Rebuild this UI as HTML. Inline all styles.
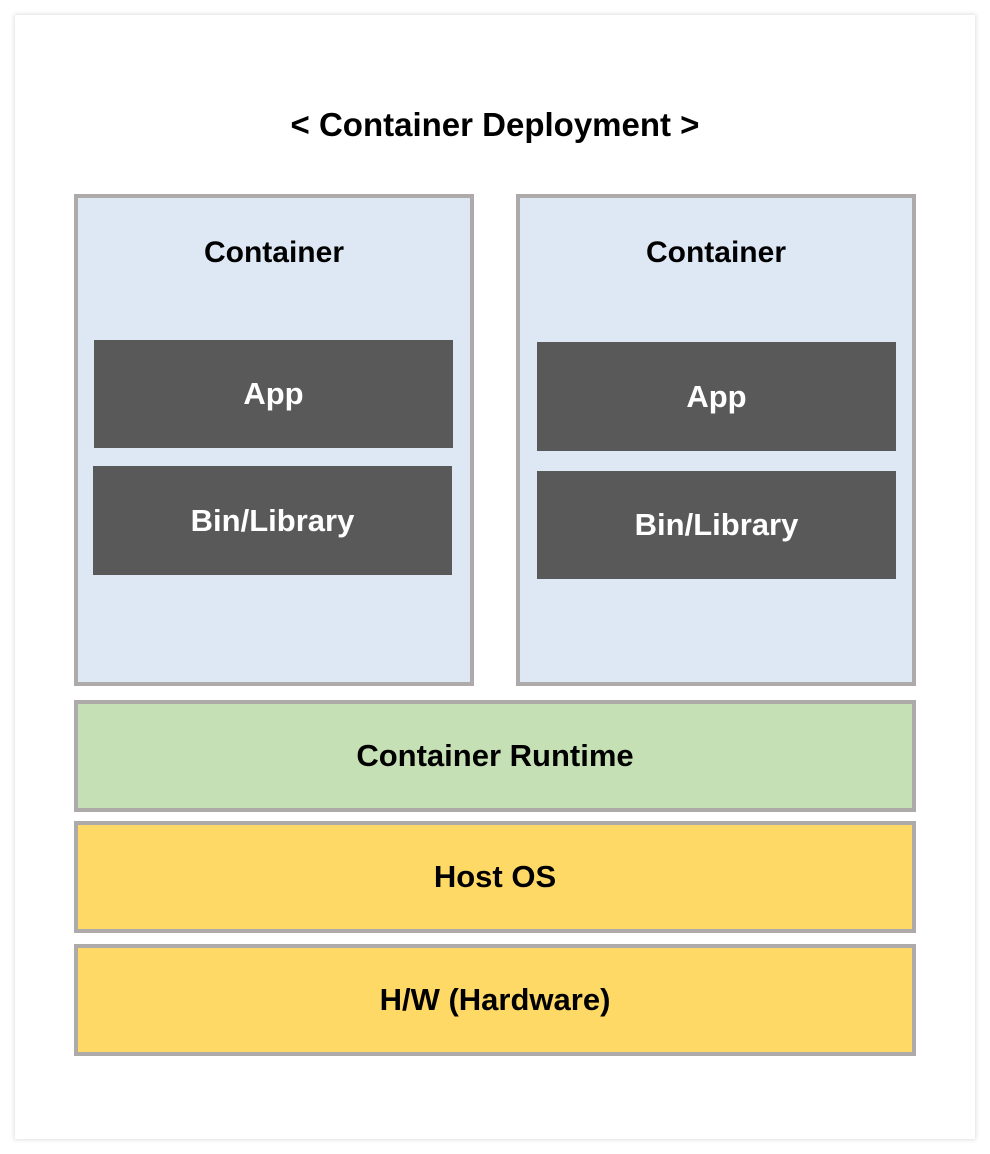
<!DOCTYPE html>
<html><head><meta charset="utf-8"><style>
body{margin:0;width:990px;height:1154px;background:#fff;position:relative;overflow:hidden;font-family:"Liberation Sans",sans-serif;font-weight:bold}
.card{position:absolute;left:15px;top:15px;width:960px;height:1124px;background:#fff;box-shadow:0 0 4px 1px rgba(0,0,0,0.12)}
.b{position:absolute;box-sizing:border-box;display:flex;align-items:center;justify-content:center}
.g{border:4px solid #aeaaaa}
.c{background:#dde8f4;align-items:flex-start}
.d{background:#595959;color:#fff;font-size:31px}
.t{position:absolute;left:0;width:990px;text-align:center;font-size:33px;top:106px;color:#000}
</style></head><body>
<div class="card"></div>
<div class="t">&lt; Container Deployment &gt;</div>
<div class="b g c" style="left:74px;top:194px;width:400px;height:492px;font-size:30px;padding-top:38px">Container</div>
<div class="b g c" style="left:516px;top:194px;width:400px;height:492px;font-size:30px;padding-top:38px">Container</div>
<div class="b d" style="left:94px;top:340px;width:359px;height:108px">App</div>
<div class="b d" style="left:93px;top:466px;width:359px;height:109px">Bin/Library</div>
<div class="b d" style="left:537px;top:342px;width:359px;height:109px">App</div>
<div class="b d" style="left:537px;top:471px;width:359px;height:108px">Bin/Library</div>
<div class="b g" style="left:74px;top:700px;width:842px;height:112px;background:#c5e0b4;font-size:31px">Container Runtime</div>
<div class="b g" style="left:74px;top:821px;width:842px;height:112px;background:#ffd966;font-size:31px">Host OS</div>
<div class="b g" style="left:74px;top:944px;width:842px;height:112px;background:#ffd966;font-size:31px">H/W (Hardware)</div>
</body></html>
